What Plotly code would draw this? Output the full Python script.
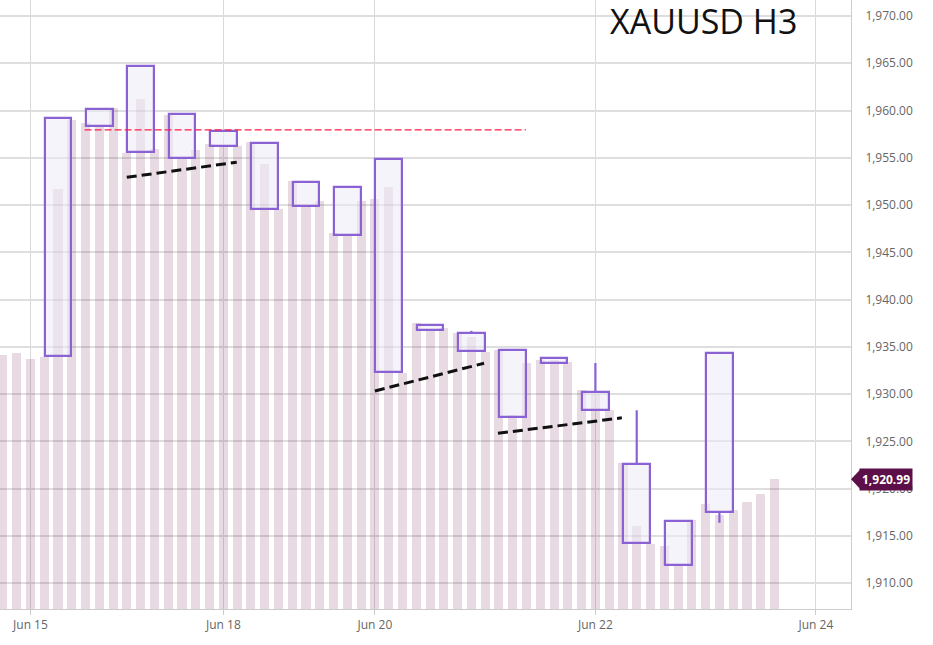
import plotly.graph_objects as go

# ---------------- data ----------------
# thin background bars (index -3 .. 53)
bar_index = list(range(-3, 54))
bar_values = [
    1934.15, 1934.4, 1933.7,                      # -3..-1
    1933.9, 1951.7, 1959.0,                       # 0..2
    1958.65, 1958.3, 1960.3,                      # 3..5
    1955.5, 1961.2, 1955.9,                       # 6..8
    1959.5, 1955.0, 1955.8,                       # 9..11
    1956.5, 1956.3, 1956.3,                       # 12..14
    1956.7, 1954.35, 1949.55,                     # 15..17
    1952.5, 1950.0, 1950.4,                       # 18..20
    1947.0, 1946.8, 1950.4,                       # 21..23
    1950.6, 1951.9, 1932.2,                       # 24..26
    1937.5, 1936.8, 1937.0,                       # 27..29
    1936.5, 1936.0, 1934.5,                       # 30..32
    1934.7, 1927.8, 1933.3,                       # 33..35
    1933.6, 1933.6, 1933.4,                       # 36..38
    1930.4, 1930.0, 1928.3,                       # 39..41
    1922.7, 1916.1, 1914.2,                       # 42..44
    1913.9, 1912.0, 1916.7,                       # 45..47
    1918.4, 1917.2, 1917.7,                       # 48..50
    1918.6, 1919.4, 1920.99,                      # 51..53
]

# H3 candles (centred on every third thin bar)
candle_index = [1, 4, 7, 10, 13, 16, 19, 22, 25, 28, 31, 34, 37, 40, 43, 46, 49]
candle_open = [1934.0, 1958.4, 1964.7, 1959.6, 1957.8, 1956.6, 1952.4, 1946.8, 1954.9,
               1936.8, 1936.5, 1934.7, 1933.3, 1930.2, 1922.6, 1911.9, 1917.5]
candle_close = [1959.2, 1960.2, 1955.6, 1955.0, 1956.3, 1949.6, 1949.9, 1951.9, 1932.3,
                1937.3, 1934.6, 1927.6, 1933.8, 1928.3, 1914.3, 1916.6, 1934.4]
candle_high = [1959.2, 1960.2, 1964.7, 1959.6, 1957.8, 1956.6, 1952.4, 1951.9, 1954.9,
               1937.3, 1936.7, 1934.7, 1933.8, 1933.3, 1928.3, 1916.6, 1934.4]
candle_low = [1934.0, 1958.4, 1955.6, 1955.0, 1956.3, 1949.6, 1949.9, 1946.8, 1932.3,
              1936.8, 1934.6, 1927.6, 1933.3, 1928.3, 1914.3, 1911.9, 1916.4]

tick_index = [-1, 13, 24, 40, 56]
tick_labels = ["Jun 15", "Jun 18", "Jun 20", "Jun 22", "Jun 24"]

resistance_level = 1957.95
resistance_x = [2.93, 34.96]
trend1_x, trend1_y = [5.99, 13.97], [1952.94, 1954.53]
trend2_x, trend2_y = [24.0, 31.92], [1930.34, 1933.27]
trend3_x, trend3_y = [32.93, 41.92], [1925.86, 1927.5]

last_price = 1920.99
title_text = "XAUUSD H3"

# ---------------- styles ----------------
PURPLE = "#8a62d4"
MAROON = "#5d0f49"
Y_MIN, Y_MAX = 1907.28, 1971.69
X_MIN, X_MAX = -3.21, 58.55

fig = go.Figure()

fig.add_trace(go.Bar(
    x=bar_index, y=bar_values, width=0.66,
    marker=dict(color="rgba(110,35,90,0.17)", line=dict(width=0)),
    hoverinfo="skip", showlegend=False,
))

body_base = [min(o, c) for o, c in zip(candle_open, candle_close)]
body_len = [abs(c - o) for o, c in zip(candle_open, candle_close)]
fig.add_trace(go.Bar(
    x=candle_index, y=body_len, base=body_base, width=1.95,
    marker=dict(color="rgba(238,235,247,0.55)", line=dict(color=PURPLE, width=2.2)),
    hoverinfo="skip", showlegend=False,
))

# wicks
wx, wy = [], []
for xi, o, c, h, l in zip(candle_index, candle_open, candle_close, candle_high, candle_low):
    top, bot = max(o, c), min(o, c)
    if h > top:
        wx += [xi, xi, None]
        wy += [top, h, None]
    if l < bot:
        wx += [xi, xi, None]
        wy += [bot, l, None]
fig.add_trace(go.Scatter(x=wx, y=wy, mode="lines", line=dict(color=PURPLE, width=2.2),
                         hoverinfo="skip", showlegend=False))

# resistance line
fig.add_trace(go.Scatter(x=resistance_x, y=[resistance_level, resistance_level], mode="lines",
                         line=dict(color="#ff1f4b", width=1.2, dash="7px,3px"),
                         hoverinfo="skip", showlegend=False))
# trend lines
for tx, ty in [(trend1_x, trend1_y), (trend2_x, trend2_y), (trend3_x, trend3_y)]:
    fig.add_trace(go.Scatter(x=tx, y=ty, mode="lines",
                             line=dict(color="#111111", width=3, dash="10px,5px"),
                             hoverinfo="skip", showlegend=False))

# last price tag
fig.add_annotation(x=1, xref="paper", y=last_price, yref="y", xanchor="left", yanchor="middle",
                   xshift=8, text="<b>1,920.99</b>", showarrow=False,
                   font=dict(family="Open Sans", size=12, color="white"),
                   bgcolor=MAROON, borderpad=2)
fig.add_shape(type="path", xref="paper", yref="y", xsizemode="pixel", ysizemode="pixel",
              xanchor=1, yanchor=last_price, path="M 0 0 L 9 9.5 L 9 -9.5 Z",
              fillcolor=MAROON, line=dict(width=0))

fig.add_annotation(x=703 / 851, xref="paper", y=1 - 21 / 609, yref="paper",
                   xanchor="center", yanchor="middle", text=title_text, showarrow=False,
                   font=dict(family="Open Sans", size=34, color="#111111"))

fig.update_layout(
    width=933, height=645,
    margin=dict(l=0, r=82, t=0, b=36),
    paper_bgcolor="white", plot_bgcolor="white",
    barmode="overlay", bargap=0,
    showlegend=False,
    font=dict(family="Open Sans", size=12, color="#666666"),
)
fig.update_xaxes(
    range=[X_MIN, X_MAX], tickmode="array", tickvals=tick_index, ticktext=tick_labels,
    showgrid=True, gridcolor="#d9d9d9", gridwidth=1, zeroline=False,
    ticks="outside", ticklen=5, tickcolor="#cccccc",
    showline=True, linecolor="#cccccc", linewidth=1,
    tickfont=dict(family="Open Sans", size=12, color="#666666"),
)
fig.update_yaxes(
    range=[Y_MIN, Y_MAX], side="right", tick0=1910, dtick=5, tickformat=",.2f",
    showgrid=True, gridcolor="#dedede", gridwidth=1.5, zeroline=False,
    ticks="", showline=True, linecolor="#cccccc", linewidth=1,
    ticklabelstandoff=11,
    tickfont=dict(family="Open Sans", size=12, color="#666666"),
)

fig.write_html("out.html", config={"displayModeBar": False},
               post_script="document.body.style.margin='0';document.body.style.overflow='hidden';")
